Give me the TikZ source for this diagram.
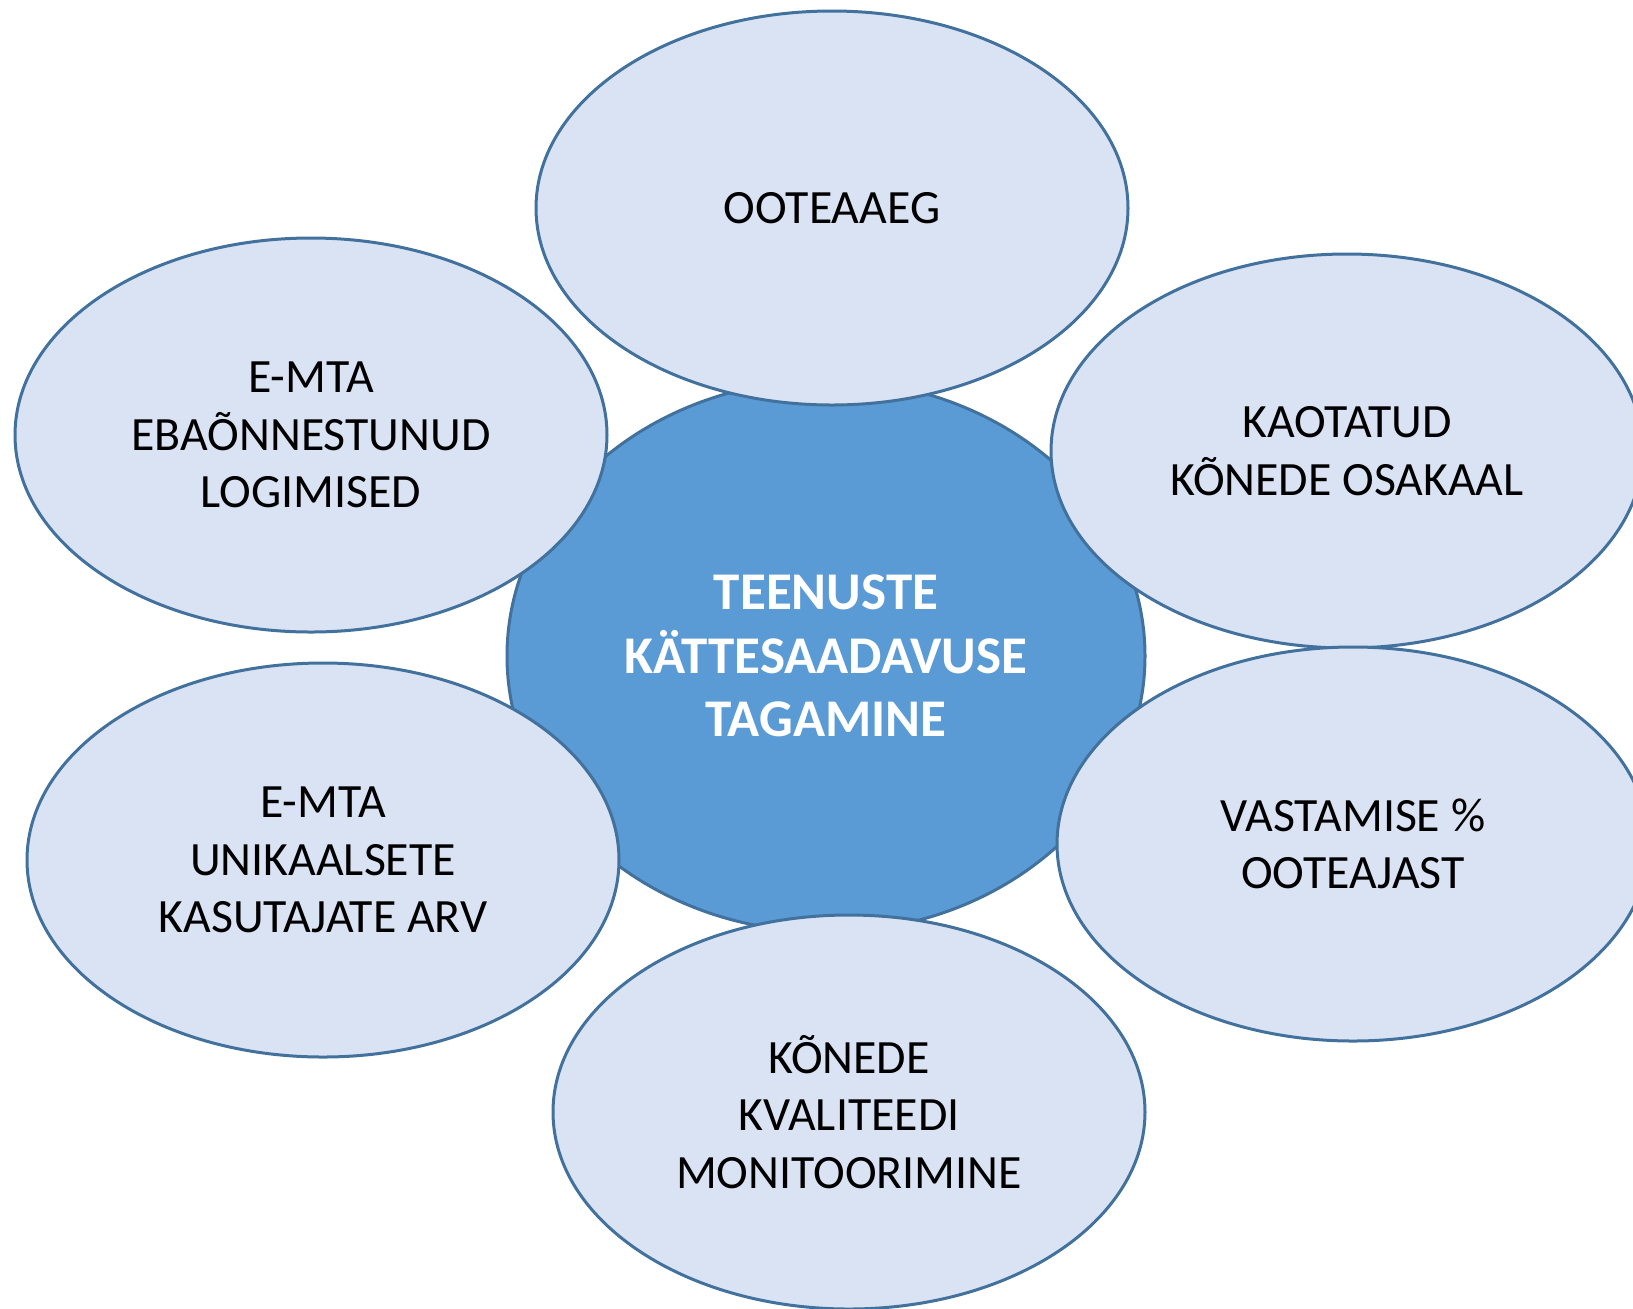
\documentclass[tikz,border=0pt]{standalone}
\usepackage{fontspec}
\setmainfont{Carlito}
\usetikzlibrary{shapes.geometric}
\definecolor{petalfill}{HTML}{DAE3F3}
\definecolor{petalline}{HTML}{41719C}
\definecolor{hubfill}{HTML}{5B9BD5}

\begin{document}
\begin{tikzpicture}[x=0.5pt, y=-0.5pt,
  petal/.style={ellipse, draw=petalline, fill=petalfill, line width=1.5pt,
    minimum width=296pt, minimum height=197pt, inner sep=0pt, align=center,
    font=\fontsize{23.9}{28.75}\selectfont},
  hub/.style={petal, fill=hubfill, minimum width=319pt, minimum height=276pt,
    text=white, font=\fontsize{26.5}{31.75}\selectfont\bfseries}]

\useasboundingbox (0,0) rectangle (1633,1308);
\clip (0,0) rectangle (1633,1308);

% Centre ellipse
\node[hub] (hub) at (826,656) {TEENUSTE\\KÄTTESAADAVUSE\\TAGAMINE};

% Surrounding ellipses
\node[petal] (wait) at (832,208) {OOTEAAEG};
\node[petal] (login) at (311,435) {E-MTA\\EBAÕNNESTUNUD\\LOGIMISED};
\node[petal] (lost) at (1347,451) {KAOTATUD\\KÕNEDE OSAKAAL};
\node[petal] (users) at (323,860) {E-MTA\\UNIKAALSETE\\KASUTAJATE ARV};
\node[petal] (answer) at (1353,844) {VASTAMISE \%\\OOTEAJAST};
\node[petal] (quality) at (849,1112) {KÕNEDE\\KVALITEEDI\\MONITOORIMINE};

\end{tikzpicture}
\end{document}
